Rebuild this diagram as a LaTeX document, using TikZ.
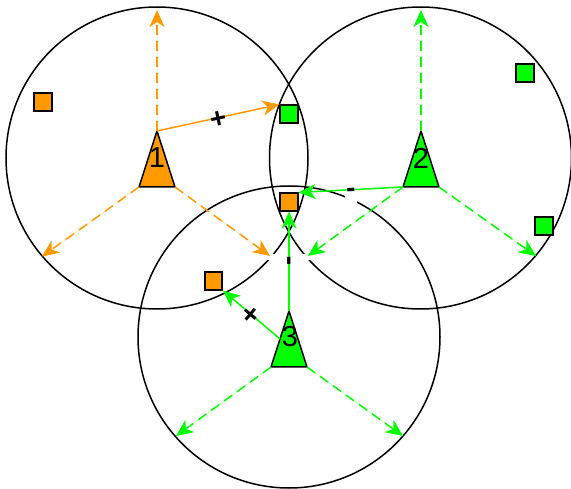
\documentclass[tikz,border=0pt]{standalone}
\usepackage{fontspec}
\setmainfont{Liberation Sans}
\usetikzlibrary{arrows.meta}
\definecolor{org}{HTML}{FF9900}
\definecolor{grn}{HTML}{00FF00}
\begin{document}
\begin{tikzpicture}[x=1pt,y=-1pt,
  ring/.style={draw=black,line width=1.5pt},
  sq/.style={draw=black,line width=1.6pt,minimum size=17.5pt,inner sep=0pt},
  tri/.style={draw=black,line width=1.5pt,line join=miter},
  num/.style={font=\fontsize{29}{29}\selectfont,inner sep=0pt},
  tipa/.style={-{Stealth[length=17pt,width=15pt,inset=5pt]}},
  dasharrow/.style={tipa,line width=1.5pt,dash pattern=on 10pt off 6pt},
  solidarrow/.style={tipa,line width=1.5pt},
  plusmark/.style={font=\bfseries\fontsize{28}{28}\selectfont,inner sep=0pt,sloped,midway,text height=19.6pt,text depth=0pt,text=black},
  minusmark/.style={font=\bfseries\fontsize{28}{28}\selectfont,inner sep=0pt,sloped,midway,text height=15pt,text depth=0pt,text=black}
]
\useasboundingbox (0,0) rectangle (571,489);

% coverage circles
\draw[ring] (157,158) circle[radius=151];
\draw[ring] (420.5,158) circle[radius=151];
\draw[ring] (289,337) circle[radius=151];

% gaps in the circles
\fill[white] (266,254.5) rectangle (312,260);
\fill[white] (344.5,185) rectangle (356.5,203);

% squares
\node[sq,fill=grn] (g1) at (289,114) {};
\node[sq,fill=grn] (g2) at (525,73) {};
\node[sq,fill=grn] (g3) at (544,226) {};
\node[sq,fill=org] (o1) at (43,102) {};
\node[sq,fill=org] (o2) at (289,202) {};
\node[sq,fill=org] (o3) at (213.5,281) {};

% triangle corners
\coordinate (t1a) at (157,131);
\coordinate (t1l) at (139,187);
\coordinate (t1r) at (175,187);
\coordinate (t2a) at (421,131);
\coordinate (t2l) at (403,187);
\coordinate (t2r) at (439,187);
\coordinate (t3a) at (289,311);
\coordinate (t3l) at (271,367);
\coordinate (t3r) at (307,367);
\coordinate (t3m) at (280,339);

% arrow ends on the circles
\coordinate (e1u) at (157,10);
\coordinate (e1l) at (42,256.5);
\coordinate (e1r) at (270,256);
\coordinate (e2u) at (421,10);
\coordinate (e2l) at (308,256);
\coordinate (e2r) at (536,256);
\coordinate (e3l) at (176,436);
\coordinate (e3r) at (403,436);

% triangles
\draw[tri,fill=org] (t1a) -- (t1l) -- (t1r) -- cycle;
\draw[tri,fill=grn] (t2a) -- (t2l) -- (t2r) -- cycle;
\draw[tri,fill=grn] (t3a) -- (t3l) -- (t3r) -- cycle;
\node[num] (n1) at (157,158) {1};
\node[num] (n2) at (421,158) {2};
\node[num] (n3) at (290,337) {3};

% dashed arrows
\draw[dasharrow,draw=org,fill=org] (t1a) -- (e1u);
\draw[dasharrow,draw=org,fill=org] (t1l) -- (e1l);
\draw[dasharrow,draw=org,fill=org] (t1r) -- (e1r);
\draw[dasharrow,draw=grn,fill=grn] (t2a) -- (e2u);
\draw[dasharrow,draw=grn,fill=grn] (t2l) -- (e2l);
\draw[dasharrow,draw=grn,fill=grn] (t2r) -- (e2r);
\draw[dasharrow,draw=grn,fill=grn] (t3l) -- (e3l);
\draw[dasharrow,draw=grn,fill=grn] (t3r) -- (e3r);

% solid arrows with marks
\draw[solidarrow,draw=org,fill=org] (t1a) -- node[plusmark] {+} (g1.north west);
\draw[solidarrow,draw=grn,fill=grn] (t2l) -- node[minusmark] {-} (o2.north east);
\draw[solidarrow,draw=grn,fill=grn] (t3a) -- node[minusmark] {-} (o2.south);
\draw[solidarrow,draw=grn,fill=grn] (t3m) -- node[plusmark] {+} (o3.south east);
\end{tikzpicture}
\end{document}
